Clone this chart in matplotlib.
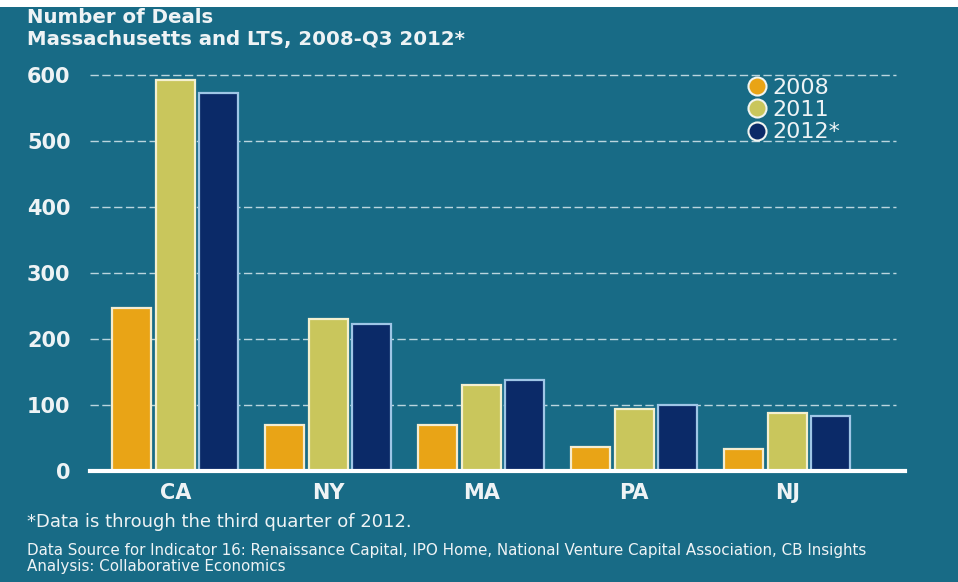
import matplotlib
matplotlib.use("Agg")
import matplotlib.pyplot as plt
from matplotlib.lines import Line2D
from matplotlib.patches import Rectangle
import numpy as np

# Deal counts by state
states = ["CA", "NY", "MA", "PA", "NJ"]
years = ["2008", "2011", "2012*"]
deals_2008 = [247, 70, 69, 36, 33]
deals_2011 = [593, 230, 130, 94, 87]
deals_2012 = [572, 222, 137, 100, 83]
yticks = [0, 100, 200, 300, 400, 500, 600]

BG = "#186b86"
TXT = "#eef3f5"
fills = ["#e9a416", "#c9c65c", "#0b2a68"]
edges = ["#f4ecd0", "#f4f0d0", "#9fc6e6"]
series = [deals_2008, deals_2011, deals_2012]

font = "DejaVu Sans"
W, H = 958, 582
fig = plt.figure(figsize=(W / 100, H / 100), dpi=100, facecolor=BG)
# thin white strip along the top edge
fig.patches.append(Rectangle((0, 1 - 7 / H), 1, 7 / H, transform=fig.transFigure,
                             facecolor="white", edgecolor="none", zorder=0))

ax = fig.add_axes([90 / W, 1 - 470.7 / H, (905 - 90) / W, (470.7 - 75) / H])
ax.set_facecolor("none")
ax.set_zorder(2)

x = np.arange(len(states))
width = 0.255
offset = 0.285
for i, (vals, fc, ec) in enumerate(zip(series, fills, edges)):
    ax.bar(x + (i - 1) * offset, vals, width=width, color=fc, edgecolor=ec,
           linewidth=1.6, zorder=3)

ax.set_xlim(-0.557, 4.77)
ax.set_ylim(0, 600)

# dashed guide lines
for t in yticks[1:]:
    ax.hlines(t, -0.557, 4.71, colors="#d8e8ee", linestyles=(0, (6, 2.5)),
              linewidth=1.0, alpha=0.85, zorder=1, clip_on=False)
ax.axhline(0, color="white", linewidth=3, zorder=4, clip_on=False)

for s in ax.spines.values():
    s.set_visible(False)
ax.set_yticks(yticks)
ax.set_yticklabels([str(t) for t in yticks], fontsize=15, color=TXT,
                   fontfamily=font, fontweight="bold")
ax.set_xticks(x)
ax.set_xticklabels(states, fontsize=15, color=TXT, fontfamily=font,
                   fontweight="bold")
ax.tick_params(axis="both", length=0)
ax.tick_params(axis="y", pad=14)
ax.tick_params(axis="x", pad=9)

handles = [Line2D([0], [0], marker="o", linestyle="none", markersize=13,
                  markerfacecolor=fc, markeredgecolor="#f0f4f0",
                  markeredgewidth=1.5) for fc in fills]
leg = ax.legend(handles, years, loc="upper left",
                bbox_to_anchor=((739 - 90) / (905 - 90), 1 + (75 - 69) / 395.7),
                frameon=False, handlelength=0.8, handletextpad=0.3,
                labelspacing=0.1, borderaxespad=0,
                prop={"family": font, "size": 16})
for t in leg.get_texts():
    t.set_color(TXT)

fig.text(27 / W, 1 - 23 / H, "Number of Deals", fontsize=14.2, color=TXT,
         fontfamily=font, fontweight="bold", va="baseline", ha="left")
fig.text(27 / W, 1 - 45 / H, "Massachusetts and LTS, 2008-Q3 2012*",
         fontsize=14.2, color=TXT, fontfamily=font, fontweight="bold",
         va="baseline", ha="left")
fig.text(27 / W, 1 - 522 / H, "*Data is through the third quarter of 2012.",
         fontsize=13, color=TXT, fontfamily=font,
         va="center", ha="left")
fig.text(27 / W, 1 - 551 / H,
         "Data Source for Indicator 16: Renaissance Capital, IPO Home, National "
         "Venture Capital Association, CB Insights",
         fontsize=10.9, color=TXT, fontfamily=font,
         va="center", ha="left")
fig.text(27 / W, 1 - 567 / H, "Analysis: Collaborative Economics",
         fontsize=10.9, color=TXT, fontfamily=font,
         va="center", ha="left")

fig.savefig("out.png", dpi=100, facecolor=fig.get_facecolor())
